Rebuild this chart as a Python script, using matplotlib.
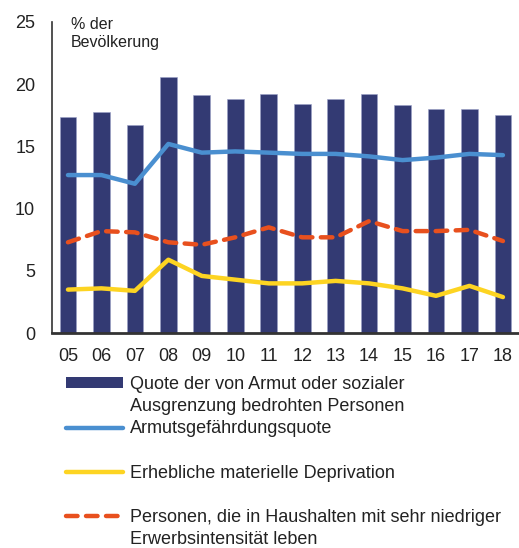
import matplotlib
matplotlib.use("Agg")
import matplotlib.pyplot as plt
from matplotlib.lines import Line2D
from matplotlib.patches import Patch

plt.rcParams['font.family'] = ['Liberation Sans', 'DejaVu Sans']

years = ["05", "06", "07", "08", "09", "10", "11", "12", "13", "14", "15", "16", "17", "18"]
arope = [17.4, 17.8, 16.7, 20.6, 19.1, 18.8, 19.2, 18.4, 18.8, 19.2, 18.3, 18.0, 18.0, 17.5]
poverty_rate = [12.7, 12.7, 12.0, 15.2, 14.5, 14.6, 14.5, 14.4, 14.4, 14.2, 13.9, 14.1, 14.4, 14.3]
deprivation = [3.5, 3.6, 3.4, 5.9, 4.6, 4.3, 4.0, 4.0, 4.2, 4.0, 3.6, 3.0, 3.8, 2.9]
low_work = [7.3, 8.2, 8.1, 7.3, 7.1, 7.7, 8.5, 7.7, 7.7, 9.0, 8.2, 8.2, 8.3, 7.4]

navy = "#333a73"
blue = "#4a8fd0"
yellow = "#fdd422"
orange = "#e8501e"

fig = plt.figure(figsize=(5.19, 5.48), dpi=100)
ax = fig.add_axes([0.1, 0.392, 0.9, 0.568])

x = list(range(len(years)))
ax.bar(x, arope, width=0.5, color=navy, edgecolor="#9aa0c8", linewidth=0.4, zorder=1)
ax.plot(x, poverty_rate, color=blue, lw=3.2, solid_capstyle="round", solid_joinstyle="round", zorder=3)
ax.plot(x, deprivation, color=yellow, lw=3.2, solid_capstyle="round", solid_joinstyle="round", zorder=3)
ax.plot(x, low_work, color=orange, lw=3.2, dashes=(2.6, 1.9), dash_capstyle="round", zorder=3)

ax.set_xlim(-0.48, 13.48)
ax.set_ylim(0, 25)
ax.set_xticks(x)
ax.set_xticklabels(years)
ax.set_yticks([0, 5, 10, 15, 20, 25])
ax.tick_params(axis="both", length=0, labelsize=13, colors="#222222")
ax.tick_params(axis="y", pad=12)
ax.tick_params(axis="x", pad=11)
for s in ["top", "right"]:
    ax.spines[s].set_visible(False)
ax.spines["left"].set_color("#333333")
ax.spines["left"].set_linewidth(1.2)
ax.spines["bottom"].set_color("#333333")
ax.spines["bottom"].set_linewidth(2)

ax.text(0.04, 1.015, "% der\nBevölkerung", transform=ax.transAxes, fontsize=11.5,
        va="top", ha="left", color="#222222", linespacing=1.2)

empty = Line2D([], [], color="none")
handles = [
    Patch(facecolor=navy, edgecolor="none"), empty,
    Line2D([], [], color=blue, lw=3.2, solid_capstyle="round"), empty,
    Line2D([], [], color=yellow, lw=3.2, solid_capstyle="round"), empty,
    Line2D([], [], color=orange, lw=3.2, dashes=(2.6, 1.9), dash_capstyle="round"), empty,
]
labels = [
    "Quote der von Armut oder sozialer", "Ausgrenzung bedrohten Personen",
    "Armutsgefährdungsquote", " ",
    "Erhebliche materielle Deprivation", " ",
    "Personen, die in Haushalten mit sehr niedriger", "Erwerbsintensität leben",
]
leg = fig.legend(handles, labels, loc="upper left", bbox_to_anchor=(0.127, 1 - 376 / 548),
                 frameon=False, fontsize=13, handlelength=3.15, handleheight=0.5,
                 handletextpad=0.4, labelspacing=0.285, borderpad=0, borderaxespad=0)
for t in leg.get_texts():
    t.set_color("#222222")

fig.savefig("out.png", dpi=100)
